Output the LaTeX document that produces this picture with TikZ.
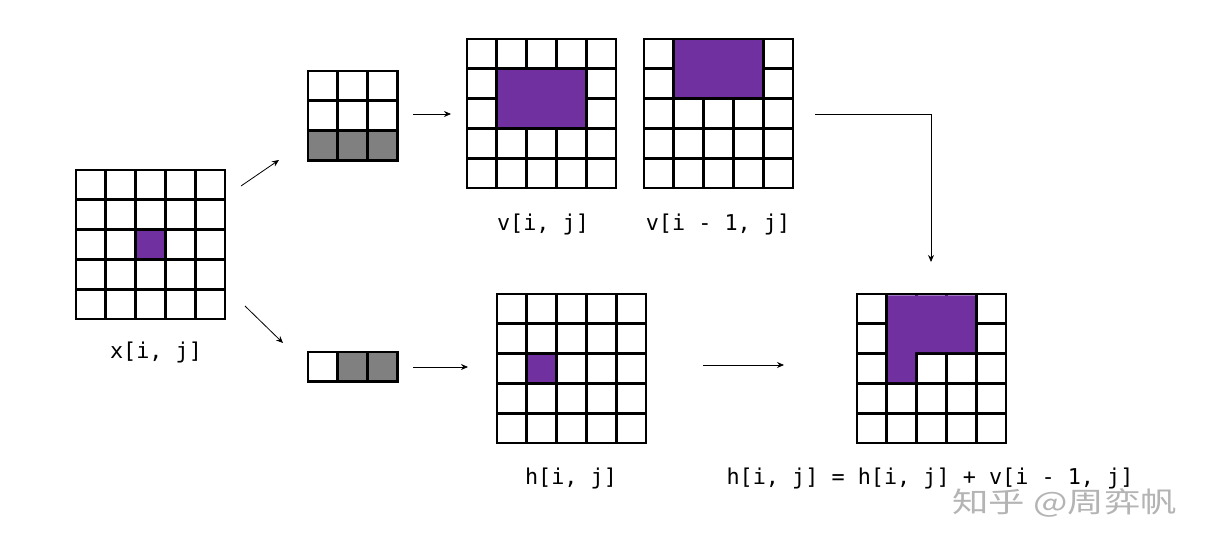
\documentclass[tikz,border=0pt]{standalone}
\usepackage{fontspec}
\setmonofont{DejaVu Sans Mono}
\newfontfamily\cjk{Noto Sans CJK SC}
\usetikzlibrary{arrows.meta}
\definecolor{vpurple}{RGB}{112,48,160}
\definecolor{cellgray}{RGB}{128,128,128}
\definecolor{wmgray}{RGB}{180,180,180}
\tikzset{
  gridline/.style={line width=2.8pt, line cap=rect},
  gridframe/.style={line width=2.8pt, line join=miter},
  conn/.style={line width=0.8pt, -{Stealth[length=7pt,width=6pt]}},
  lbl/.style={font=\ttfamily\fontsize{21.8}{25}\selectfont, inner sep=0pt, anchor=center},
  wm/.style={font=\cjk\fontsize{28}{32}\selectfont, text=wmgray, inner sep=0pt,
    xscale=1.3, text height=19pt, text depth=1pt},
  box/.style={inner sep=0pt, draw=none, minimum size=0pt},
}
% #1 x, #2 y (top-left), #3 cols, #4 rows
\newcommand{\cellgrid}[4]{%
  \foreach \ci in {1,...,\numexpr#3-1\relax}{%
    \draw[gridline] ({#1+\ci*29.8},#2) -- ++(0,{#4*29.8});}
  \ifnum#4>1
  \foreach \ri in {1,...,\numexpr#4-1\relax}{%
    \draw[gridline] (#1,{#2+\ri*29.8}) -- ++({#3*29.8},0);}
  \fi
}
\newcommand{\gridframe}[4]{%
  \draw[gridframe] (#1,#2) rectangle ++({#3*29.8},{#4*29.8});}
% fill cell(s): x0,y0, col, row, ncols, nrows, color
\newcommand{\cellfill}[7]{%
  \fill[#7] ({#1+#3*29.8},{#2+#4*29.8}) rectangle ++({#5*29.8},{#6*29.8});}
\begin{document}
\begin{tikzpicture}[x=1pt,y=-1pt]
\useasboundingbox (0,0) rectangle (1206,556);
\fill[white] (0,0) rectangle (1206,556);

% ---- x[i,j]
\cellfill{76}{170}{2}{2}{1}{1}{vpurple}
\cellgrid{76}{170}{5}{5}
\gridframe{76}{170}{5}{5}
\node[box, minimum width=149pt, minimum height=149pt] (X) at (150.5,244.5) {};
\node[lbl] (Xl) at (156,352) {x[i, j]};

% ---- small 3x3 (vertical context)
\cellfill{308}{71}{0}{2}{3}{1}{cellgray}
\cellgrid{308}{71}{3}{3}
\gridframe{308}{71}{3}{3}
\node[box, minimum width=89pt, minimum height=89pt] (S1) at (352.7,115.7) {};

% ---- small 1x3 (horizontal context)
\cellfill{308}{352}{1}{0}{2}{1}{cellgray}
\cellgrid{308}{352}{3}{1}
\gridframe{308}{352}{3}{1}
\node[box, minimum width=89pt, minimum height=30pt] (S2) at (352.7,366.9) {};

% ---- v[i,j]
\cellgrid{467}{39}{5}{5}
\gridframe{467}{39}{5}{5}
\fill[vpurple] ({467+29.8+1.4},{39+29.8+1.4}) rectangle ({467+4*29.8-1.4},{39+3*29.8-1.4});
\node[box, minimum width=149pt, minimum height=149pt] (V) at (541.5,113.5) {};
\node[lbl] (Vl) at (543,224) {v[i, j]};

% ---- v[i-1,j]
\cellgrid{644}{39}{5}{5}
\gridframe{644}{39}{5}{5}
\fill[vpurple] ({644+29.8+1.4},{39+1.4}) rectangle ({644+4*29.8-1.4},{39+2*29.8-1.4});
\node[box, minimum width=149pt, minimum height=149pt] (V1) at (718.5,113.5) {};
\node[lbl] (V1l) at (718,224) {v[i - 1, j]};

% ---- h[i,j]
\cellfill{497}{294}{1}{2}{1}{1}{vpurple}
\cellgrid{497}{294}{5}{5}
\gridframe{497}{294}{5}{5}
\node[box, minimum width=149pt, minimum height=149pt] (H) at (571.5,368.5) {};
\node[lbl] (Hl) at (571,478) {h[i, j]};

% ---- result
\cellgrid{857}{294}{5}{5}
\gridframe{857}{294}{5}{5}
\fill[vpurple] ({857+29.8+1.4},{294+1.4}) -- ({857+4*29.8-1.4},{294+1.4})
  -- ({857+4*29.8-1.4},{294+2*29.8-1.4}) -- ({857+2*29.8-1.4},{294+2*29.8-1.4})
  -- ({857+2*29.8-1.4},{294+3*29.8-1.4}) -- ({857+29.8+1.4},{294+3*29.8-1.4}) -- cycle;
\node[box, minimum width=149pt, minimum height=149pt] (R) at (931.5,368.5) {};
\node[lbl] (Rl) at (930,478) {h[i, j] = h[i, j] + v[i - 1, j]};

% ---- connectors
\coordinate (a1s) at (241,186); \coordinate (a1e) at (279,160);
\coordinate (a2s) at (245,306); \coordinate (a2e) at (283,343);
\coordinate (a3s) at (413,114); \coordinate (a3e) at (451,114);
\coordinate (a4s) at (413,367); \coordinate (a4e) at (468,367);
\coordinate (a5s) at (703,365); \coordinate (a5e) at (784,365);
\coordinate (a6s) at (815,114); \coordinate (a6e) at (931,262);
\draw[conn] (a1s) -- (a1e);
\draw[conn] (a2s) -- (a2e);
\draw[conn] (a3s) -- (a3e);
\draw[conn] (a4s) -- (a4e);
\draw[conn] (a5s) -- (a5e);
\draw[conn] (a6s) -| (a6e);

% ---- watermark
\node[wm, anchor=base west] (W) at (952,512) {知乎 @周弈帆};
\end{tikzpicture}
\end{document}
